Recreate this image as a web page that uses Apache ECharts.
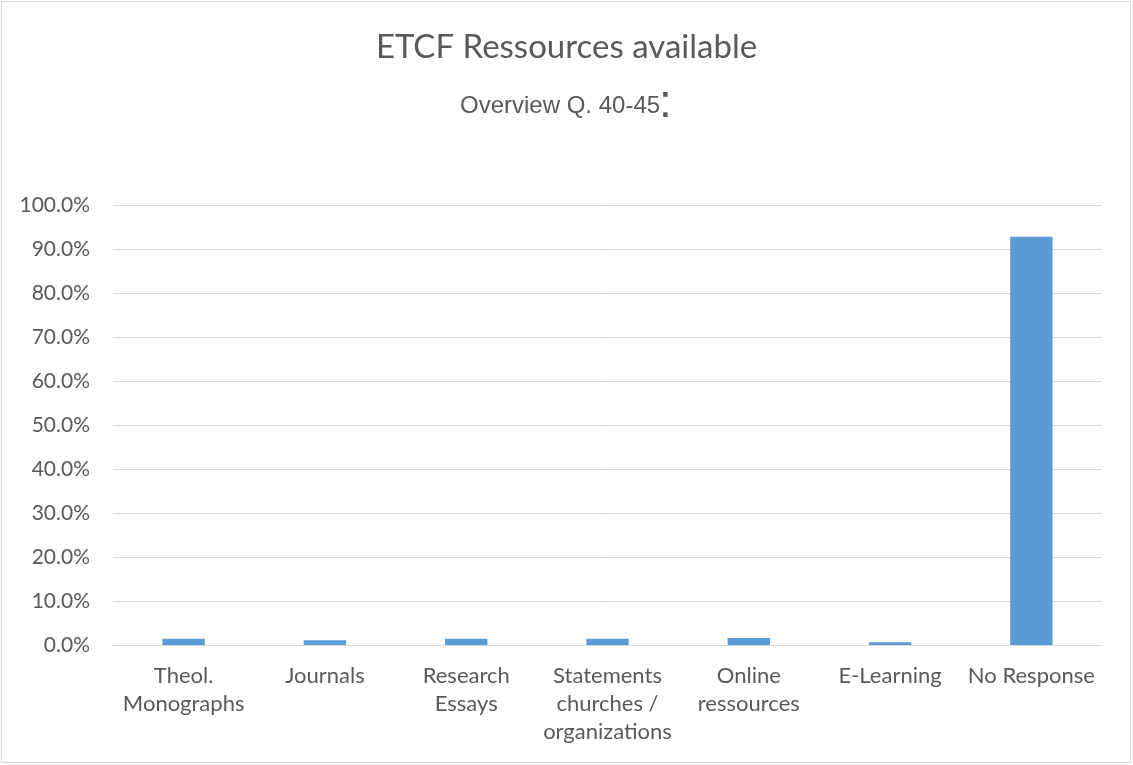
<!DOCTYPE html>
<html>
<head>
<meta charset="utf-8">
<script src="https://cdn.jsdelivr.net/npm/echarts@6/dist/echarts.min.js"></script>
<style>
  html, body { margin: 0; padding: 0; background: #fff; }
  #chart { width: 1133px; height: 765px; }
</style>
</head>
<body>
<div id="chart"></div>
<script>
// data (percent of respondents)
const categories = ['Theol.\nMonographs', 'Journals', 'Research\nEssays', 'Statements\nchurches /\norganizations', 'Online\nressources', 'E-Learning', 'No Response'];
const values = [1.4, 1.1, 1.4, 1.4, 1.6, 0.6, 92.8];
const yTicks = {min: 0, max: 100, step: 10};

const textColor = '#595959';
const font = 'Lato, "Open Sans", sans-serif';
const arial = '"Liberation Sans", Arial, sans-serif';

const chart = echarts.init(document.getElementById('chart'));
const option = {
    animation: false,
    backgroundColor: '#fff',
    title: [{
        text: 'ETCF Ressources available',
        left: 'center',
        top: 26,
        textStyle: {
            color: textColor,
            fontFamily: font,
            fontWeight: 'normal',
            fontSize: 33
        }
    }, {
        text: 'Overview Q. 40-45',
        left: 455,
        top: 83,
        textStyle: {
            color: textColor,
            fontFamily: arial,
            fontWeight: 'normal',
            fontSize: 24,
            lineHeight: 36
        }
    }],
    graphic: [{
        type: 'rect',
        shape: {x: 1.5, y: 1.5, width: 1129, height: 761},
        style: {fill: 'none', stroke: '#d9d9d9', lineWidth: 1},
        silent: true
    }, {
        // the oversized colon after the subtitle
        type: 'text',
        left: 659,
        top: 81,
        style: {
            text: ':',
            fill: textColor,
            font: '46px "Liberation Sans", Arial, sans-serif'
        },
        silent: true
    }],
    grid: {left: 113, right: 31, top: 205, bottom: 120},
    xAxis: {
        type: 'category',
        data: categories,
        axisLine: {lineStyle: {color: '#d9d9d9', width: 1}},
        axisTick: {show: false},
        axisLabel: {
            color: textColor,
            fontFamily: font,
            fontSize: 22,
            lineHeight: 28,
            interval: 0,
            margin: 17
        }
    },
    yAxis: {
        type: 'value',
        min: yTicks.min,
        max: yTicks.max,
        interval: yTicks.step,
        axisLine: {show: false},
        axisTick: {show: false},
        axisLabel: {
            color: textColor,
            fontFamily: font,
            fontSize: 21,
            margin: 23,
            formatter: function (v) { return v.toFixed(1) + '%'; }
        },
        splitLine: {lineStyle: {color: '#d9d9d9', width: 1}}
    },
    series: [{
        type: 'bar',
        data: values,
        barWidth: '30%',
        itemStyle: {color: '#5b9bd5'}
    }]
};
chart.setOption(option);
</script>
</body>
</html>
